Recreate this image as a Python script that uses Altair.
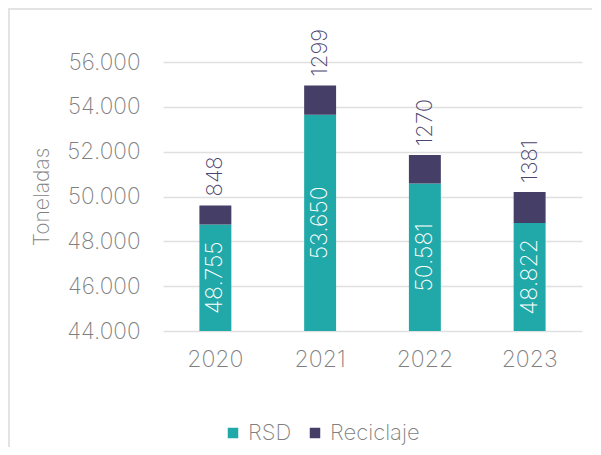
import altair as alt
import pandas as pd

years = ["2020", "2021", "2022", "2023"]
rsd = [48755, 53650, 50581, 48822]
reciclaje = [848, 1299, 1270, 1381]
series = ["RSD", "Reciclaje"]
colors = ["#21A8A8", "#453F67"]
y_ticks = [44000, 46000, 48000, 50000, 52000, 54000, 56000]
Y_MIN, Y_MAX = 44000, 56000

rows = []
for i, y in enumerate(years):
    rows.append({"year": y, "series": "RSD", "value": rsd[i], "ord": 0})
    rows.append({"year": y, "series": "Reciclaje", "value": reciclaje[i], "ord": 1})
long_df = pd.DataFrame(rows)

wide_df = pd.DataFrame({"year": years, "rsd": rsd, "rec": reciclaje})

FONT = "Inter, Open Sans"
FW = 200
GRAY = "#7f7f7f"
W, H = 419, 269

x_enc = alt.X("year:N", sort=years, title=None,
              scale=alt.Scale(paddingInner=0.695, paddingOuter=0.3475),
              axis=alt.Axis(labelAngle=0, labelFontSize=23, labelColor=GRAY,
                            labelFont=FONT, labelFontWeight=FW, labelPadding=17,
                            domain=False, ticks=False))
y_scale = alt.Scale(domain=[Y_MIN, Y_MAX], zero=False, nice=False)

base = alt.Chart(long_df)

bars = base.mark_bar(clip=True).encode(
    x=x_enc,
    y=alt.Y("value:Q", stack="zero", scale=y_scale, title="Toneladas",
            axis=alt.Axis(values=y_ticks, domain=False, ticks=False,
                          labelExpr="replace(format(datum.value, ',.0f'), ',', '.')",
                          labelFontSize=22.5, labelColor=GRAY, labelFont=FONT,
                          labelFontWeight=FW, labelPadding=23,
                          titleFontSize=21, titleColor=GRAY, titleFont=FONT,
                          titleFontWeight=FW, titlePadding=14,
                          grid=True, gridColor="#e0e0e0", gridWidth=1.6)),
    color=alt.Color("series:N", sort=series,
                    scale=alt.Scale(domain=series, range=colors),
                    legend=alt.Legend(title=None, orient="none", direction="horizontal",
                                      legendX=59, legendY=360,
                                      symbolType="square", symbolSize=110,
                                      symbolStrokeWidth=0, symbolOpacity=1,
                                      labelFontSize=22, labelColor=GRAY, labelFont=FONT,
                                      labelFontWeight=FW, columnPadding=12,
                                      labelOffset=4)),
    order=alt.Order("ord:Q"),
)

inner = alt.Chart(wide_df).transform_calculate(
    mid=f"({Y_MIN} + datum.rsd) / 2",
    txt="replace(format(datum.rsd, ',.0f'), ',', '.')",
).mark_text(angle=270, align="center", baseline="middle", color="white",
            fontSize=23, font=FONT, fontWeight=FW).encode(
    x=alt.X("year:N", sort=years),
    y=alt.Y("mid:Q", scale=y_scale),
    text="txt:N",
)

top = alt.Chart(wide_df).transform_calculate(
    total="datum.rsd + datum.rec",
).mark_text(angle=270, align="left", baseline="middle", color="#4B4670",
            fontSize=22, font=FONT, fontWeight=FW, dx=9).encode(
    x=alt.X("year:N", sort=years),
    y=alt.Y("total:Q", scale=y_scale),
    text=alt.Text("rec:Q", format="d"),
)

frame_left = alt.Chart(wide_df).mark_rule(color="#e3e3e3", strokeWidth=2).encode(
    x=alt.value(-154), y=alt.value(-54), y2=alt.value(H + 130))
frame_top = alt.Chart(wide_df).mark_rule(color="#e3e3e3", strokeWidth=2).encode(
    x=alt.value(-155), x2=alt.value(W + 20), y=alt.value(-53))

chart = alt.layer(frame_left, frame_top, bars, inner, top).properties(
    width=W, height=H,
    autosize=alt.AutoSizeParams(type="none"),
    padding={"left": 155, "top": 54, "right": 10, "bottom": 116},
).configure_view(stroke=None)

chart.save("out.html", embed_options={"renderer": "svg", "actions": False})
